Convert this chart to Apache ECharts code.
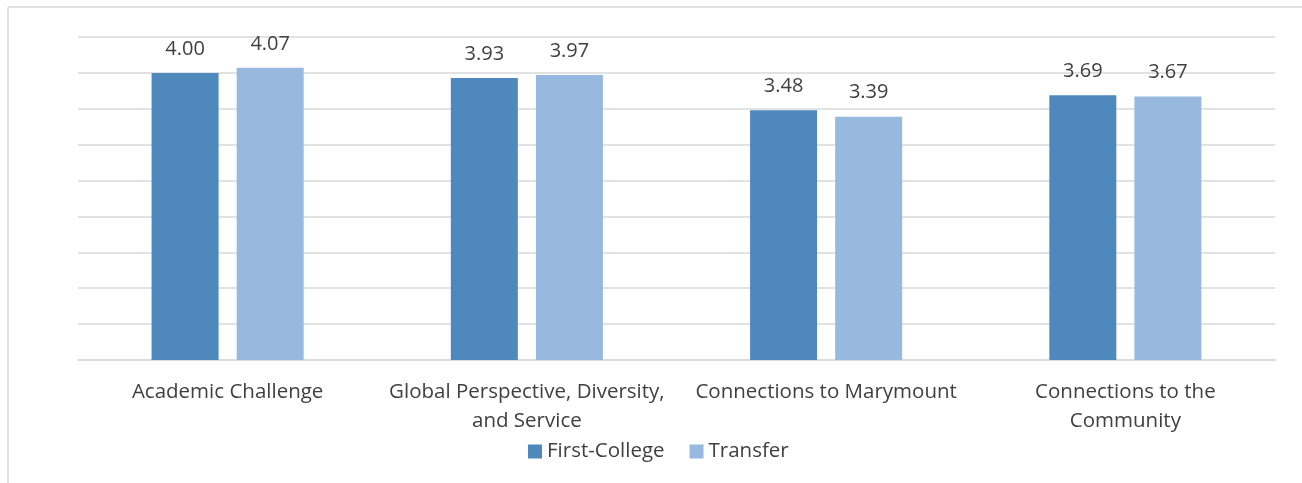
<!DOCTYPE html>
<html>
<head>
<meta charset="utf-8">
<script src="https://cdn.jsdelivr.net/npm/echarts@6/dist/echarts.min.js"></script>
<style>
html,body{margin:0;padding:0;background:#fff;}
#c{width:1302px;height:483px;}
</style>
</head>
<body>
<div id="c"></div>
<script>
var categories = ["Academic Challenge", "Global Perspective, Diversity,\nand Service", "Connections to Marymount", "Connections to the\nCommunity"];
var firstCollege = [4.00, 3.93, 3.48, 3.69];
var transfer = [4.07, 3.97, 3.39, 3.67];
var seriesNames = ["First-College", "Transfer"];

var chart = echarts.init(document.getElementById('c'), null, {renderer: 'canvas'});
var FONT = '"Open Sans", sans-serif';
var labelStyle = {
  show: true, position: 'top', distance: 14,
  color: '#404040', fontSize: 20, fontFamily: FONT,
  formatter: function (p) { return p.value.toFixed(2); }
};
chart.setOption({
  animation: false,
  backgroundColor: '#fff',
  graphic: [
    {type: 'line', shape: {x1: 8, y1: 7, x2: 1302, y2: 7}, style: {stroke: '#d9d9d9', lineWidth: 1.5}},
    {type: 'line', shape: {x1: 8, y1: 7, x2: 8, y2: 483}, style: {stroke: '#d9d9d9', lineWidth: 1.5}}
  ],
  grid: {left: 78, right: 27, top: 37, bottom: 123, containLabel: false},
  legend: {
    data: seriesNames, left: 523, top: 436,
    itemWidth: 14, itemHeight: 14, itemGap: 25,
    icon: 'rect',
    textStyle: {color: '#404040', fontSize: 20.5, fontFamily: FONT}
  },
  xAxis: {
    type: 'category', data: categories,
    axisLine: {lineStyle: {color: '#d9d9d9', width: 1.5}},
    axisTick: {show: false},
    axisLabel: {color: '#404040', fontSize: 20.5, fontFamily: FONT, lineHeight: 29, margin: 18, interval: 0}
  },
  yAxis: {
    type: 'value', min: 0, max: 4.5, interval: 0.5,
    axisLabel: {show: false},
    axisLine: {show: false}, axisTick: {show: false},
    splitLine: {lineStyle: {color: '#d9d9d9', width: 1.5}}
  },
  series: [
    {name: seriesNames[0], type: 'bar', data: firstCollege, barWidth: 67, barGap: '27%',
     itemStyle: {color: '#4E88BD'}, label: labelStyle},
    {name: seriesNames[1], type: 'bar', data: transfer, barWidth: 67,
     itemStyle: {color: '#97B9E0'}, label: labelStyle}
  ]
});
</script>
</body>
</html>
